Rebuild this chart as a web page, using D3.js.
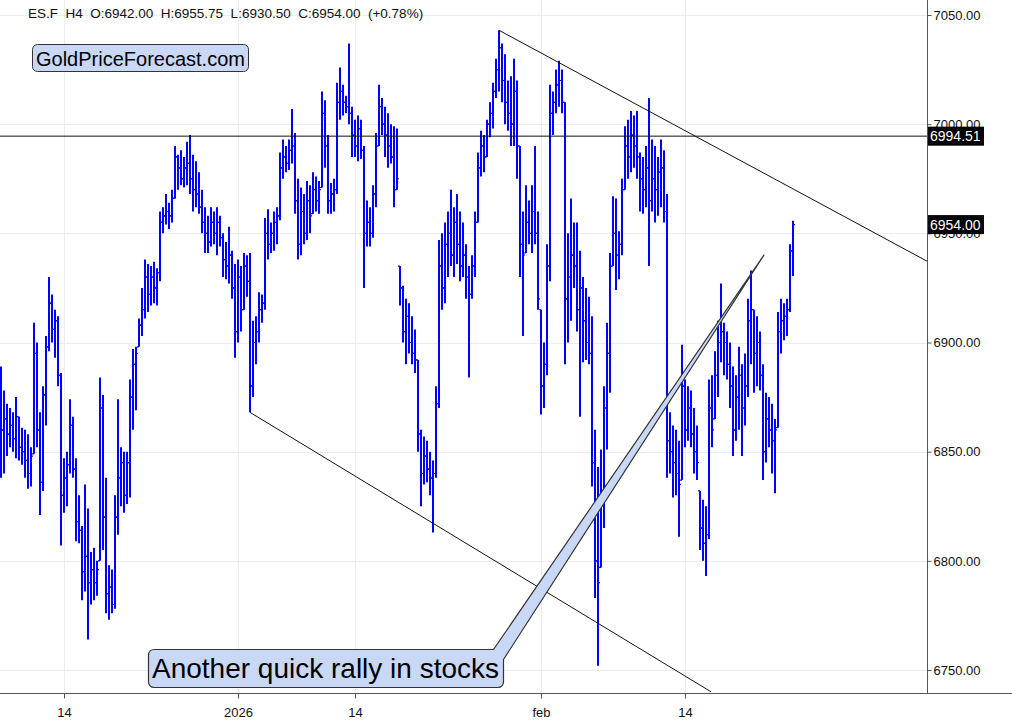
<!DOCTYPE html>
<html>
<head>
<meta charset="utf-8">
<script src="https://cdn.jsdelivr.net/npm/d3@7/dist/d3.min.js"></script>
<style>
  body { margin: 0; background: #fff; }
  svg { display: block; font-family: "Liberation Sans", Arial, sans-serif; }
</style>
</head>
<body>
<svg id="chart" width="1012" height="726"></svg>
<script>
// H4 bars (open = previous close)
var highs = [
  6889,6878,6872,6870,6868,6875,6866,6861,6860,6858,
  6852,6909,6900,6868,6880,6903,6930,6922,6915,6912,
  6886,6847,6850,6874,6866,6847,6830,6816,6835,6824,
  6804,6806,6800,6884,6876,6838,6798,6796,6830,6874,
  6852,6850,6850,6883,6897,6898,6911,6925,6938,6936,
  6935,6937,6934,6960,6962,6968,6964,6970,6990,6986,
  6988,6985,6992,6995,6986,6983,6978,6970,6962,6958,
  6962,6960,6962,6958,6950,6946,6953,6942,6936,6938,
  6935,6941,6940,6941,6910,6912,6923,6922,6957,6961,
  6955,6960,6962,6987,6993,6990,6993,7007,6996,6975,
  6971,6968,6974,6972,6978,6976,6974,7015,7011,6995,
  6973,6975,7019,7026,7018,7013,7037,7008,7002,7004,
  7002,6990,6965,6962,6972,6996,7018,7012,7008,7005,
  7000,6999,6998,6935,6926,6920,6918,6912,6906,6892,
  6860,6857,6855,6850,6846,6880,6947,6950,6955,6960,
  6970,6962,6968,6960,6955,6945,6935,6940,6960,6987,
  6997,6995,7002,7010,7019,7030,7043,7037,7032,7020,
  7022,7030,7020,6990,6960,6972,6965,6972,6990,6960,
  6915,6900,6945,7018,7015,7025,7029,7025,7010,6950,
  6966,6955,6955,6942,6930,6925,6921,6912,6860,6843,
  6851,6880,6909,6941,6967,6966,6951,6975,6999,7002,
  7006,7004,7006,6987,6985,6990,7012,6993,6990,6985,
  6993,6988,6968,6868,6862,6860,6855,6899,6883,6880,
  6878,6870,6862,6832,6828,6825,6883,6885,6896,6910,
  6927,6909,6905,6900,6889,6885,6898,6890,6895,6920,
  6933,6915,6912,6905,6890,6877,6875,6872,6865,6914,
  6920,6918,6920,6945,6955.75
];
var lows = [
  6838,6840,6848,6852,6850,6847,6846,6844,6838,6833,
  6834,6849,6852,6821,6832,6862,6896,6900,6893,6880,
  6807,6822,6825,6840,6838,6809,6808,6782,6786,6764,
  6780,6782,6784,6800,6805,6776,6773,6776,6778,6812,
  6825,6822,6826,6829,6860,6869,6898,6903,6911,6914,
  6917,6918,6917,6928,6950,6954,6952,6955,6966,6970,
  6972,6971,6972,6968,6960,6962,6959,6950,6941,6941,
  6944,6945,6940,6944,6930,6929,6927,6920,6893,6900,
  6905,6915,6921,6868,6875,6890,6900,6909,6915,6938,
  6941,6942,6945,6956,6975,6978,6979,6982,6959,6938,
  6940,6945,6947,6950,6959,6960,6959,6971,6980,6959,
  6959,6960,6968,7002,7004,7005,7000,6985,6985,6983,
  6984,6925,6944,6944,6948,6962,6990,6995,6985,6980,
  6982,6962,6970,6917,6900,6890,6895,6890,6886,6850,
  6825,6835,6836,6830,6813,6838,6870,6915,6918,6930,
  6935,6930,6936,6928,6930,6920,6884,6920,6930,6955,
  6976,6978,6985,6994,6998,7012,7015,7010,7000,6997,
  6990,6990,6975,6930,6903,6941,6945,6941,6945,6915,
  6867,6870,6885,6928,6995,7005,7008,7005,6890,6900,
  6910,6925,6905,6866,6891,6892,6890,6834,6783,6752,
  6797,6815,6851,6877,6935,6924,6929,6940,6970,6975,
  6978,6980,6975,6960,6959,6962,6935,6960,6955,6958,
  6962,6955,6838,6840,6829,6830,6811,6837,6852,6855,
  6852,6840,6837,6805,6800,6793,6810,6852,6865,6875,
  6891,6885,6883,6870,6848,6855,6860,6848,6862,6875,
  6890,6877,6880,6878,6837,6845,6852,6840,6831,6861,
  6895,6901,6903,6914,6930.5
];
var closes = [
  6860,6865,6858,6862,6856,6866,6852,6850,6846,6840,
  6848,6895,6860,6836,6876,6898,6918,6906,6910,6885,
  6830,6838,6844,6862,6842,6818,6814,6795,6802,6790,
  6796,6790,6796,6870,6820,6785,6788,6780,6820,6838,
  6845,6830,6845,6875,6890,6895,6908,6915,6930,6922,
  6930,6925,6932,6955,6958,6960,6958,6966,6985,6980,
  6975,6980,6982,6975,6970,6968,6962,6955,6950,6946,
  6955,6950,6955,6948,6938,6935,6940,6925,6905,6930,
  6915,6935,6928,6880,6900,6905,6915,6918,6950,6945,
  6950,6955,6958,6980,6985,6982,6988,6990,6965,6945,
  6960,6950,6965,6958,6970,6965,6970,7005,6990,6965,
  6968,6970,7010,7015,7010,7008,7005,6995,6990,6998,
  6988,6950,6955,6950,6968,6990,7008,7000,6995,6990,
  6985,6970,6975,6925,6905,6912,6900,6895,6892,6858,
  6840,6848,6842,6838,6840,6872,6935,6925,6945,6950,
  6940,6955,6945,6935,6940,6930,6922,6935,6955,6980,
  6990,6985,7000,7005,7015,7025,7035,7020,7010,7005,
  7000,7015,6990,6945,6940,6955,6950,6960,6950,6920,
  6880,6890,6935,7005,7010,7018,7020,7010,6920,6930,
  6940,6935,6915,6925,6910,6900,6895,6845,6800,6790,
  6830,6870,6895,6935,6950,6940,6945,6970,6990,6985,
  6995,6990,6985,6975,6970,6980,6965,6975,6970,6978,
  6980,6960,6855,6850,6845,6840,6835,6880,6860,6870,
  6858,6850,6845,6815,6808,6812,6870,6860,6885,6900,
  6905,6900,6890,6880,6860,6875,6885,6870,6880,6910,
  6915,6895,6900,6885,6850,6865,6860,6855,6860,6905,
  6910,6912,6915,6942,6954
];
var firstOpen = 6865;

var priceTicks = [7050, 7000, 6950, 6900, 6850, 6800, 6750];
var dateTickIdx = [21, 79, 118, 180, 228];
var dateTickLabels = ["14", "2026", "14", "feb", "14"];

var hLevel = 6994.51;
var lastClose = 6954.00;
var upperLine = [[166, 7043], [309, 6937]];
var lowerLine = [[83, 6868], [236.7, 6740]];
var calloutTip = [254.3, 6940];

var header = "ES.F  H4  O:6942.00  H:6955.75  L:6930.50  C:6954.00  (+0.78%)";
var logoText = "GoldPriceForecast.com";
var calloutText = "Another quick rally in stocks";

var svg = d3.select("#chart");
var plotW = 927, plotH = 693;

var x = d3.scaleLinear().domain([0, highs.length - 1]).range([1, 793]);
var y = d3.scaleLinear().domain([6750, 7050]).range([670, 15]);

svg.append("defs").append("clipPath").attr("id", "plot")
  .append("rect").attr("width", plotW).attr("height", plotH);

// grid
var grid = svg.append("g").attr("stroke", "#ececec").attr("stroke-width", 1);
grid.selectAll(".hg").data(priceTicks).enter().append("line")
  .attr("x1", 0).attr("x2", plotW)
  .attr("y1", d => Math.round(y(d)) + 0.5).attr("y2", d => Math.round(y(d)) + 0.5);
grid.selectAll(".vg").data(dateTickIdx).enter().append("line")
  .attr("y1", 0).attr("y2", plotH)
  .attr("x1", d => Math.round(x(d)) + 0.5).attr("x2", d => Math.round(x(d)) + 0.5);

// bars
var bars = svg.append("g").attr("clip-path", "url(#plot)").attr("stroke", "#0000ff");
highs.forEach(function(h, i) {
  var l = lows[i], c = closes[i];
  var o = i === 0 ? firstOpen : closes[i - 1];
  o = Math.max(l, Math.min(h, o));
  var cx = x(i);
  bars.append("line").attr("x1", cx).attr("x2", cx)
    .attr("y1", y(h)).attr("y2", y(l)).attr("stroke-width", 2);
  bars.append("line").attr("x1", cx - 2).attr("x2", cx)
    .attr("y1", y(o)).attr("y2", y(o)).attr("stroke-width", 1.2);
  bars.append("line").attr("x1", cx).attr("x2", cx + 2)
    .attr("y1", y(c)).attr("y2", y(c)).attr("stroke-width", 1.2);
});

// lines
var lines = svg.append("g").attr("clip-path", "url(#plot)")
  .attr("stroke", "#111").attr("stroke-width", 1).attr("fill", "none");
lines.append("line").attr("x1", 0).attr("x2", plotW)
  .attr("y1", y(hLevel)).attr("y2", y(hLevel));
[upperLine, lowerLine].forEach(function(seg) {
  lines.append("line")
    .attr("x1", x(seg[0][0])).attr("y1", y(seg[0][1]))
    .attr("x2", x(seg[1][0])).attr("y2", y(seg[1][1]));
});

// axes frame
svg.append("line").attr("x1", plotW + 0.5).attr("x2", plotW + 0.5)
  .attr("y1", 0).attr("y2", plotH).attr("stroke", "#555");
svg.append("line").attr("x1", 0).attr("x2", 1012)
  .attr("y1", plotH + 0.5).attr("y2", plotH + 0.5).attr("stroke", "#555");

var yAxis = svg.append("g").attr("transform", "translate(" + (plotW + 0.5) + ",0)")
  .call(d3.axisRight(y).tickValues(priceTicks).tickFormat(d3.format(".2f"))
    .tickSize(4).tickPadding(2));
yAxis.select(".domain").remove();
yAxis.selectAll("text").attr("font-size", 13).attr("fill", "#111")
  .attr("font-family", "Liberation Sans, Arial, sans-serif");
yAxis.selectAll("line").attr("stroke", "#555");

var xAxis = svg.append("g").attr("transform", "translate(0," + (plotH + 0.5) + ")")
  .call(d3.axisBottom(x).tickValues(dateTickIdx)
    .tickFormat((d, i) => dateTickLabels[i]).tickSize(5).tickPadding(9));
xAxis.select(".domain").remove();
xAxis.selectAll("text").attr("font-size", 13).attr("fill", "#111")
  .attr("font-family", "Liberation Sans, Arial, sans-serif");
xAxis.selectAll("line").attr("stroke", "#555");

// price tags
[hLevel, lastClose].forEach(function(p) {
  var g = svg.append("g").attr("transform", "translate(" + (plotW + 1) + "," + y(p) + ")");
  g.append("rect").attr("x", 0).attr("y", -9.5).attr("width", 56).attr("height", 19).attr("fill", "#000");
  g.append("text").attr("x", 2).attr("y", 5).attr("fill", "#fff").attr("font-size", 14)
    .text(d3.format(".2f")(p));
});

// header
svg.append("text").attr("x", 28).attr("y", 18).attr("font-size", 13.5).attr("fill", "#111")
  .style("white-space", "pre").text(header);

// logo box
svg.append("rect").attr("x", 32.5).attr("y", 44.5).attr("width", 216).attr("height", 27)
  .attr("rx", 5).attr("fill", "#c9d8f6").attr("stroke", "#333");
svg.append("text").attr("x", 36).attr("y", 66).attr("font-size", 20).attr("fill", "#000")
  .text(logoText);

// callout
var bx0 = 148.5, by0 = 649.5, bx1 = 503.5, by1 = 687.5, r = 6;
var tx = x(calloutTip[0]), ty = y(calloutTip[1]);
var p = d3.path();
p.moveTo(bx0 + r, by0);
p.lineTo(bx1 - 10, by0);
p.lineTo(tx, ty);
p.lineTo(bx1, by0 + 10);
p.lineTo(bx1, by1 - r);
p.quadraticCurveTo(bx1, by1, bx1 - r, by1);
p.lineTo(bx0 + r, by1);
p.quadraticCurveTo(bx0, by1, bx0, by1 - r);
p.lineTo(bx0, by0 + r);
p.quadraticCurveTo(bx0, by0, bx0 + r, by0);
p.closePath();
svg.append("path").attr("d", p.toString()).attr("fill", "#c9d8f6")
  .attr("stroke", "#333").attr("stroke-width", 1.2).attr("stroke-linejoin", "round");
svg.append("text").attr("x", 152).attr("y", 678).attr("font-size", 28).attr("fill", "#000")
  .text(calloutText);
</script>
</body>
</html>
